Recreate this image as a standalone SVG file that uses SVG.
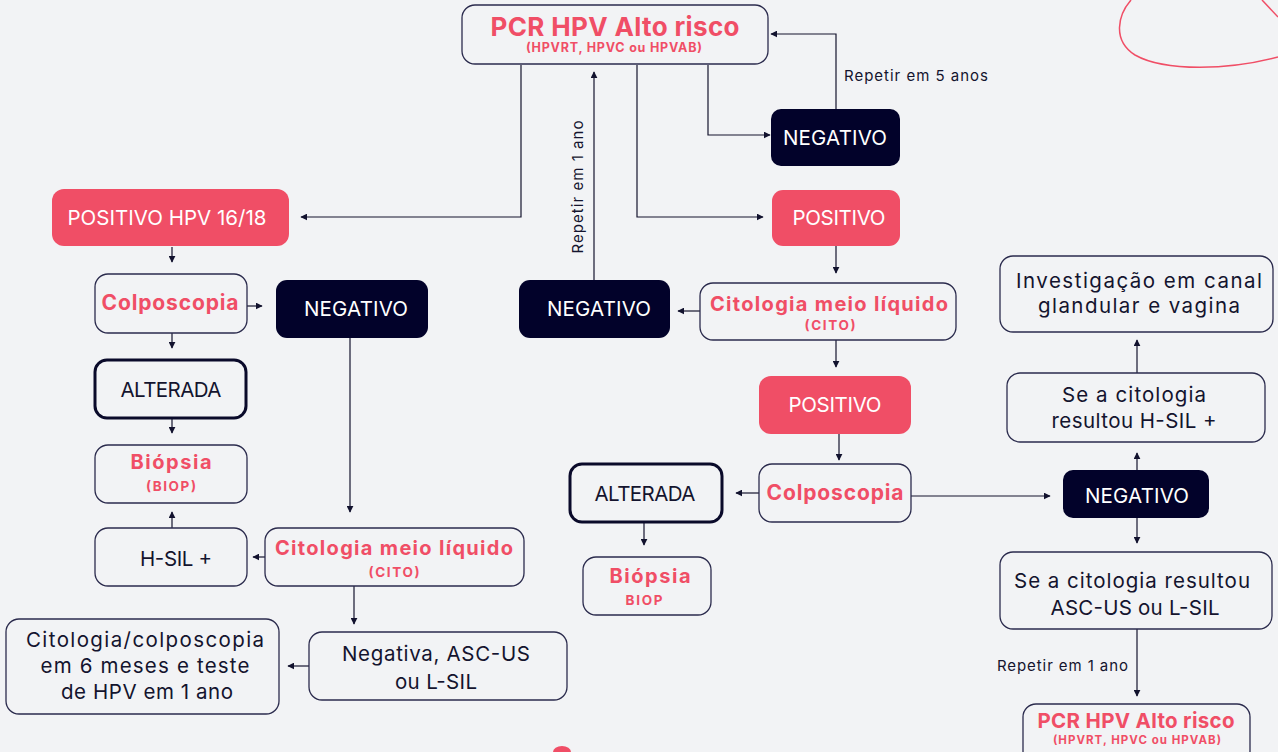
<svg xmlns="http://www.w3.org/2000/svg" width="1278" height="752" viewBox="0 0 1278 752">
<defs>
<marker id="ah" viewBox="0 0 10 10" refX="9" refY="5" markerWidth="7" markerHeight="7" markerUnits="userSpaceOnUse" orient="auto">
<path d="M0,0 L10,5 L0,10 z" fill="#12122e"/>
</marker>
<style>
.bg{fill:#f2f3f5}
.box{fill:#f2f3f5;stroke:#2b2b4d;stroke-width:1.3}
.thick{fill:#f2f3f5;stroke:#0a0a2a;stroke-width:3}
.dark{fill:#02022a}
.red{fill:#f04e66}
.t{font-family:Inter,"Noto Sans","Liberation Sans",sans-serif;text-anchor:middle}
.w{fill:#ffffff;font-size:20.5px}
.d{fill:#14142e;font-size:20.5px}
.rb{fill:#f04e66;font-weight:700}
.lab{font-family:Inter,"Noto Sans","Liberation Sans",sans-serif;fill:#14142e;font-size:15px}
.c{fill:none;stroke:#14142e;stroke-width:1.2;marker-end:url(#ah)}
</style>
</defs>
<rect class="bg" x="0" y="0" width="1278" height="752"/>
<path d="M1131,0 C1118,15 1112,40 1135,55 C1165,72 1230,70 1278,57" fill="none" stroke="#f04e66" stroke-width="1.5"/>
<path d="M1262,0 L1278,17" fill="none" stroke="#f04e66" stroke-width="1.5"/>
<path d="M553,752 A9,6 0 0 1 571,752" fill="#f04e66"/>

<g id="connectors">
<path class="c" d="M708,65 V135 H770"/>
<path class="c" d="M836,109 V34 H771"/>
<path class="c" d="M521,65 V217 H301"/>
<path class="c" d="M637,65 V217 H763"/>
<path class="c" d="M594,280 V72"/>
<path class="c" d="M172,247 V262"/>
<path class="c" d="M247,306 H262"/>
<path class="c" d="M172,333 V348"/>
<path class="c" d="M172,418 V433"/>
<path class="c" d="M350,338 V512"/>
<path class="c" d="M265,557 H253"/>
<path class="c" d="M172,528 V512"/>
<path class="c" d="M354,586 V624"/>
<path class="c" d="M309,666 H288"/>
<path class="c" d="M836,246 V273"/>
<path class="c" d="M700,311 H678"/>
<path class="c" d="M836,340 V367"/>
<path class="c" d="M839,434 V460"/>
<path class="c" d="M759,493 H736"/>
<path class="c" d="M644,522 V545"/>
<path class="c" d="M911,496 H1050"/>
<path class="c" d="M1137,470 V453"/>
<path class="c" d="M1137,373 V340"/>
<path class="c" d="M1137,518 V543"/>
<path class="c" d="M1137,629 V696"/>
<text class="lab" x="844" y="81" textLength="144" lengthAdjust="spacing">Repetir em 5 anos</text>
<text class="lab" transform="translate(583,187) rotate(-90)" text-anchor="middle" textLength="133" lengthAdjust="spacing">Repetir em 1 ano</text>
<text class="lab" x="997" y="671" textLength="131" lengthAdjust="spacing">Repetir em 1 ano</text>
</g>

<g id="pcr-top">
<rect class="box" x="462" y="5" width="306" height="59" rx="13"/>
<text class="t rb" x="615" y="36" font-size="26" textLength="249" lengthAdjust="spacing">PCR HPV Alto risco</text>
<text class="t rb" x="614" y="52" font-size="12.5" textLength="176" lengthAdjust="spacing">(HPVRT, HPVC ou HPVAB)</text>
</g>
<g id="neg-top">
<rect class="dark" x="771" y="109" width="129" height="57" rx="10"/>
<text class="t w" x="835" y="145" textLength="104" lengthAdjust="spacing">NEGATIVO</text>
</g>
<g id="pos-1618">
<rect class="red" x="52" y="189" width="237" height="57" rx="12"/>
<text class="t w" x="167" y="225" font-size="21" textLength="199" lengthAdjust="spacing">POSITIVO HPV 16/18</text>
</g>
<g id="pos-top">
<rect class="red" x="772" y="190" width="128" height="56" rx="11"/>
<text class="t w" x="839" y="225" textLength="93" lengthAdjust="spacing">POSITIVO</text>
</g>
<g id="colpo-left">
<rect class="box" x="95" y="274" width="152" height="59" rx="13"/>
<text class="t rb" x="170" y="310" font-size="21" textLength="137" lengthAdjust="spacing">Colposcopia</text>
</g>
<g id="neg-left">
<rect class="dark" x="276" y="280" width="152" height="58" rx="11"/>
<text class="t w" x="356" y="316" textLength="104" lengthAdjust="spacing">NEGATIVO</text>
</g>
<g id="alt-left">
<rect class="thick" x="95" y="360" width="151" height="58" rx="12"/>
<text class="t d" x="171" y="397" textLength="101" lengthAdjust="spacing">ALTERADA</text>
</g>
<g id="biop-left">
<rect class="box" x="95" y="445" width="152" height="58" rx="13"/>
<text class="t rb" x="171" y="469" font-size="20" textLength="81" lengthAdjust="spacing">Biópsia</text>
<text class="t rb" x="171" y="491" font-size="13.5" textLength="50" lengthAdjust="spacing">(BIOP)</text>
</g>
<g id="hsil-left">
<rect class="box" x="95" y="528" width="152" height="58" rx="13"/>
<text class="t d" x="176" y="566" textLength="72" lengthAdjust="spacing">H-SIL +</text>
</g>
<g id="cito-left">
<rect class="box" x="265" y="528" width="259" height="58" rx="13"/>
<text class="t rb" x="394" y="555" font-size="20" textLength="238" lengthAdjust="spacing">Citologia meio líquido</text>
<text class="t rb" x="394" y="577" font-size="13.5" textLength="51" lengthAdjust="spacing">(CITO)</text>
</g>
<g id="negativa">
<rect class="box" x="309" y="632" width="258" height="68" rx="13"/>
<text class="t d" x="436" y="661" textLength="188" lengthAdjust="spacing">Negativa, ASC-US</text>
<text class="t d" x="436" y="689" textLength="82" lengthAdjust="spacing">ou L-SIL</text>
</g>
<g id="cito-colpo">
<rect class="box" x="6" y="619" width="273" height="95" rx="13"/>
<text class="t d" x="145" y="647" textLength="238" lengthAdjust="spacing">Citologia/colposcopia</text>
<text class="t d" x="145" y="673" textLength="209" lengthAdjust="spacing">em 6 meses e teste</text>
<text class="t d" x="147" y="699" textLength="172" lengthAdjust="spacing">de HPV em 1 ano</text>
</g>
<g id="cito-mid">
<rect class="box" x="700" y="283" width="256" height="57" rx="13"/>
<text class="t rb" x="829" y="311" font-size="20" textLength="238" lengthAdjust="spacing">Citologia meio líquido</text>
<text class="t rb" x="830" y="330" font-size="13.5" textLength="51" lengthAdjust="spacing">(CITO)</text>
</g>
<g id="neg-mid">
<rect class="dark" x="519" y="280" width="151" height="58" rx="11"/>
<text class="t w" x="599" y="316" textLength="104" lengthAdjust="spacing">NEGATIVO</text>
</g>
<g id="pos-mid">
<rect class="red" x="759" y="376" width="152" height="58" rx="12"/>
<text class="t w" x="835" y="412" textLength="93" lengthAdjust="spacing">POSITIVO</text>
</g>
<g id="colpo-mid">
<rect class="box" x="759" y="464" width="152" height="58" rx="13"/>
<text class="t rb" x="835" y="500" font-size="21" textLength="137" lengthAdjust="spacing">Colposcopia</text>
</g>
<g id="alt-mid">
<rect class="thick" x="570" y="464" width="152" height="58" rx="12"/>
<text class="t d" x="645" y="501" textLength="101" lengthAdjust="spacing">ALTERADA</text>
</g>
<g id="biop-mid">
<rect class="box" x="583" y="557" width="128" height="58" rx="13"/>
<text class="t rb" x="650" y="583" font-size="20" textLength="81" lengthAdjust="spacing">Biópsia</text>
<text class="t rb" x="644" y="605" font-size="13.5" textLength="37" lengthAdjust="spacing">BIOP</text>
</g>
<g id="neg-right">
<rect class="dark" x="1063" y="470" width="146" height="48" rx="10"/>
<text class="t w" x="1137" y="503" textLength="104" lengthAdjust="spacing">NEGATIVO</text>
</g>
<g id="hsil-right">
<rect class="box" x="1007" y="373" width="258" height="69" rx="13"/>
<text class="t d" x="1134" y="402" textLength="144" lengthAdjust="spacing">Se a citologia</text>
<text class="t d" x="1134" y="428" textLength="165" lengthAdjust="spacing">resultou H-SIL +</text>
</g>
<g id="investigacao">
<rect class="box" x="1000" y="256" width="273" height="76" rx="13"/>
<text class="t d" x="1139" y="288" textLength="246" lengthAdjust="spacing">Investigação em canal</text>
<text class="t d" x="1139" y="313" textLength="202" lengthAdjust="spacing">glandular e vagina</text>
</g>
<g id="asc-right">
<rect class="box" x="1000" y="552" width="272" height="77" rx="13"/>
<text class="t d" x="1132" y="588" textLength="236" lengthAdjust="spacing">Se a citologia resultou</text>
<text class="t d" x="1135" y="615" textLength="169" lengthAdjust="spacing">ASC-US ou L-SIL</text>
</g>
<g id="pcr-bottom">
<rect class="box" x="1023" y="704" width="227" height="60" rx="13"/>
<text class="t rb" x="1136" y="728" font-size="20.5" textLength="197" lengthAdjust="spacing">PCR HPV Alto risco</text>
<text class="t rb" x="1137" y="744" font-size="11.5" textLength="168" lengthAdjust="spacing">(HPVRT, HPVC ou HPVAB)</text>
</g>
</svg>
